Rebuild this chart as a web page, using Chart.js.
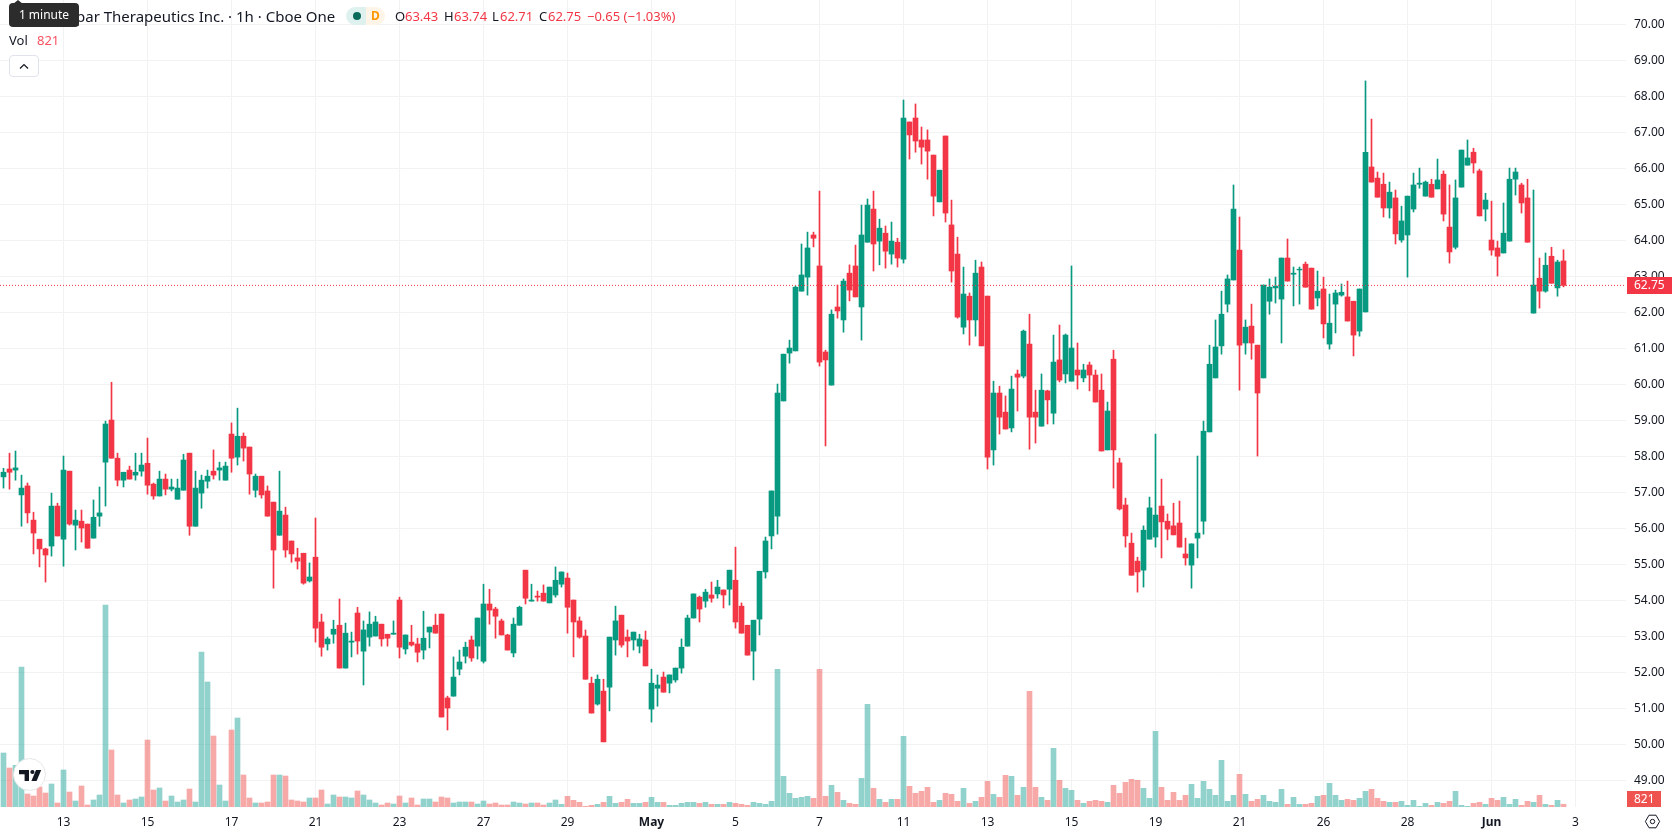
<!DOCTYPE html>
<html>
<head>
<meta charset="utf-8">
<title>1h candles</title>
<script src="https://cdn.jsdelivr.net/npm/chart.js@4"></script>
<style>
    body { margin: 0; background: #fff; font-family: "Noto Sans", sans-serif; color: #131722; overflow: hidden; }
    #wrap { position: relative; width: 1678px; height: 835px; }
    #chart { position: absolute; left: 0; top: 0; }
    .txt { position: absolute; white-space: nowrap; font-size: 13px; line-height: 18px; }
    .red { color: #f23645; }
    #title { left: 76px; top: 6px; font-size: 15px; line-height: 20px; }
    #hint { position: absolute; left: 9px; top: 3px; width: 70px; height: 24px; background: #2c2c2c; border-radius: 4px; color: #fff; font-size: 12px; line-height: 24px; text-align: center; }
    #hint-tip { position: absolute; left: 13px; top: 0; width: 0; height: 0; border-left: 5px solid transparent; border-right: 5px solid transparent; border-bottom: 4px solid #2c2c2c; }
    #pill-a { position: absolute; left: 346px; top: 7px; width: 20px; height: 18px; background: #dff1ee; border-radius: 9px 0 0 9px; }
    #pill-a i { position: absolute; left: 7px; top: 5px; width: 8px; height: 8px; border-radius: 50%; background: #0b6b5b; }
    #pill-b { position: absolute; left: 366px; top: 7px; width: 19px; height: 18px; background: #fff4e8; border-radius: 0 9px 9px 0; color: #ff9800; font-size: 12px; font-weight: 700; line-height: 18px; text-align: center; }
    #collapse { position: absolute; left: 9px; top: 55px; width: 28px; height: 20px; border: 1px solid #e0e3eb; border-radius: 4px; background: #fff; }
    #logo { position: absolute; left: 13px; top: 758px; width: 33px; height: 33px; box-sizing: border-box; border: 1px solid #e6e6e6; border-radius: 50%; background: #fff; }
    #gear { position: absolute; left: 1644px; top: 813px; }
</style>
</head>
<body>
<div id="wrap">
    <canvas id="chart" width="1678" height="835"></canvas>

    <div class="txt" id="title">par Therapeutics Inc. · 1h · Cboe One</div>
    <div id="hint-tip"></div>
    <div id="hint">1 minute</div>
    <div id="pill-a"><i></i></div>
    <div id="pill-b">D</div>

    <div class="txt" style="left:395px;top:7px">O</div><div class="txt red" style="left:405px;top:7px">63.43</div>
    <div class="txt" style="left:444px;top:7px">H</div><div class="txt red" style="left:454px;top:7px">63.74</div>
    <div class="txt" style="left:492px;top:7px">L</div><div class="txt red" style="left:500px;top:7px">62.71</div>
    <div class="txt" style="left:539px;top:7px">C</div><div class="txt red" style="left:548px;top:7px">62.75</div>
    <div class="txt red" style="left:587px;top:7px">−0.65 (−1.03%)</div>

    <div class="txt" style="left:9px;top:31px">Vol</div>
    <div class="txt" style="left:37px;top:31px;color:#f7525f">821</div>

    <div id="collapse">
        <svg width="28" height="20"><path d="M10 12.5l4-4 4 4" fill="none" stroke="#131722" stroke-width="1.2"/></svg>
    </div>

    <div id="logo">
        <svg width="31" height="31" viewBox="0 0 31 31">
            <path d="M5 11h10v11h-4.4v-6.8H5z" fill="#131722"/>
            <circle cx="18.4" cy="13" r="2.1" fill="#131722"/>
            <path d="M22 11h5.2l-4.6 11h-5.2z" fill="#131722"/>
        </svg>
    </div>

    <svg id="gear" width="17" height="17" viewBox="0 0 17 17">
        <path d="M5 2.2h7l3.6 6.3-3.6 6.3H5L1.4 8.5z" fill="none" stroke="#131722"/>
        <circle cx="8.5" cy="8.5" r="2.2" fill="none" stroke="#131722"/>
    </svg>
</div>

<script>
    // Hourly candles, oldest first
    const opens = [
        57.43,57.65,57.62,56.93,57.18,56.23,55.70,55.43,55.51,56.62,
        55.70,57.59,56.09,56.20,56.12,55.73,56.34,57.84,59.01,57.95,
        57.34,57.62,57.48,57.59,57.81,57.23,56.90,57.37,57.09,56.81,
        57.06,58.09,56.06,56.98,57.31,57.59,57.62,57.34,58.62,57.98,
        58.56,58.26,57.06,57.45,57.04,56.73,55.81,56.37,55.65,55.18,
        55.31,54.54,55.20,53.40,52.79,53.06,53.31,52.12,52.84,53.65,
        52.59,52.98,53.01,53.34,53.06,53.06,54.01,52.65,52.84,52.79,
        52.62,53.12,53.31,53.62,51.29,51.34,52.09,52.45,52.90,52.73,
        52.31,53.90,53.76,53.43,53.04,52.54,53.31,54.84,53.98,54.12,
        54.20,53.93,54.15,54.45,54.62,54.01,53.43,53.01,51.70,51.12,
        51.48,51.59,52.90,53.59,52.98,52.90,52.73,52.90,50.98,51.56,
        51.87,51.70,51.79,52.12,52.73,53.51,54.09,53.98,54.15,54.18,
        54.29,54.31,54.56,53.84,53.31,52.59,53.48,54.79,55.79,56.34,
        59.54,60.87,60.93,62.59,62.98,64.15,63.29,60.90,59.98,62.15,
        61.79,63.09,63.29,62.15,63.95,64.87,63.98,64.20,63.62,63.95,
        63.48,67.29,67.40,66.79,66.79,66.37,65.07,66.90,64.43,63.62,
        61.59,62.45,61.79,63.26,62.45,58.18,59.76,59.23,58.79,60.29,
        60.23,61.12,59.23,58.84,59.82,59.20,60.68,60.29,60.09,60.40,
        60.18,60.54,60.26,59.84,58.18,60.70,57.82,56.65,55.59,55.09,
        54.84,55.70,55.76,56.62,56.20,56.07,56.15,55.29,54.98,55.73,
        56.20,58.68,60.18,61.07,62.23,62.90,63.73,61.15,61.62,61.09,
        60.18,62.31,62.68,62.37,63.51,63.06,63.18,63.34,63.23,62.40,
        62.65,61.12,62.23,62.48,62.43,62.31,61.48,62.01,66.04,65.73,
        65.56,64.90,65.18,64.01,64.15,64.87,65.56,65.23,65.56,65.43,
        65.84,64.37,63.81,65.48,66.09,66.45,65.93,64.87,64.01,63.79,
        63.65,63.98,65.70,65.54,65.18,61.98,62.95,62.59,63.56,62.68,
        63.43
    ];
    const highs = [
        57.67,58.09,58.15,57.48,57.26,56.45,55.70,55.45,56.98,56.70,
        58.01,57.59,56.51,56.51,56.12,56.79,57.15,58.98,60.06,58.09,
        57.56,57.73,58.09,58.09,58.51,57.26,57.59,57.51,57.37,57.37,
        58.06,58.09,57.59,57.48,57.62,58.18,57.84,57.84,58.93,59.34,
        58.65,58.26,57.51,57.45,57.18,56.73,57.59,56.59,55.65,55.45,
        55.31,55.04,56.29,53.62,52.98,53.45,54.04,53.37,53.12,53.81,
        53.43,53.68,53.56,53.34,53.06,53.43,54.09,53.04,53.31,52.95,
        53.70,53.26,53.62,53.62,51.34,52.43,52.62,52.84,53.01,53.51,
        54.45,54.31,53.81,53.48,53.06,53.51,53.84,54.84,54.45,54.26,
        54.43,54.37,54.93,54.79,54.76,54.01,53.54,53.18,51.87,51.93,
        51.81,52.98,53.84,53.59,53.18,53.12,53.06,53.15,52.09,51.93,
        52.01,51.93,52.12,52.93,53.59,54.18,54.12,54.31,54.51,54.56,
        54.29,54.84,55.48,53.93,53.31,53.45,54.81,55.76,57.04,60.01,
        60.84,61.23,62.73,63.90,64.23,64.23,65.37,60.95,62.07,62.76,
        62.93,63.32,63.87,64.98,65.15,65.37,64.59,64.40,64.51,64.06,
        67.90,67.29,67.79,67.15,67.07,66.37,65.95,66.90,65.12,64.09,
        63.26,62.54,63.45,63.40,62.45,60.09,59.95,59.68,60.23,60.40,
        61.51,61.95,59.84,60.29,59.84,61.37,61.65,61.40,63.29,61.15,
        60.56,60.62,60.40,60.29,59.51,60.95,57.95,56.84,55.87,55.20,
        56.07,56.87,58.62,57.37,56.40,56.70,56.76,55.73,55.57,58.01,
        58.98,61.09,61.79,62.59,63.04,65.54,64.65,61.79,62.23,61.09,
        62.76,62.93,62.98,63.51,64.04,63.26,63.26,63.40,63.23,63.15,
        62.98,62.51,62.62,62.79,62.87,62.31,62.65,68.43,67.37,65.90,
        65.87,65.62,65.40,64.95,65.23,65.87,66.01,65.65,65.70,66.26,
        65.93,65.54,65.68,66.51,66.79,66.56,65.98,65.31,65.09,63.98,
        65.04,66.01,66.01,65.59,65.70,65.40,63.51,63.65,63.81,63.45,
        63.74
    ];
    const lows = [
        57.12,57.09,57.34,56.06,56.15,55.29,54.93,54.51,55.23,55.79,
        54.95,56.09,55.40,55.62,55.45,55.73,56.06,56.62,57.95,57.18,
        57.15,57.37,57.34,57.45,56.95,56.81,56.90,56.93,57.04,56.81,
        57.06,55.81,56.06,56.56,57.12,57.37,57.34,57.34,57.56,57.76,
        57.87,56.95,56.87,56.84,56.34,54.34,55.81,55.20,55.06,54.87,
        54.45,54.51,52.84,52.45,52.62,52.81,52.12,52.12,52.43,52.51,
        51.65,52.73,53.01,52.73,52.73,53.06,52.40,52.51,52.73,52.29,
        52.37,52.68,53.09,50.76,50.40,51.34,51.93,52.26,52.31,52.37,
        52.26,53.34,52.95,53.04,52.62,52.43,53.31,53.90,53.98,53.98,
        53.98,53.93,54.09,54.37,53.09,52.43,52.95,51.81,50.87,51.09,
        50.07,50.93,52.48,52.70,52.43,52.62,52.54,52.18,50.62,51.06,
        51.45,51.43,51.73,51.98,52.73,53.51,53.40,53.81,53.95,54.06,
        53.79,53.87,53.23,53.09,52.48,51.79,53.04,54.62,55.43,55.84,
        59.54,60.59,60.93,62.59,62.48,63.82,60.51,58.29,59.98,61.84,
        61.45,62.32,62.43,61.23,63.95,63.15,63.32,63.23,63.34,63.26,
        63.37,66.26,66.45,66.12,65.70,64.68,65.07,64.51,62.84,61.84,
        61.40,61.09,61.34,61.07,57.65,57.76,58.62,58.76,58.68,59.26,
        60.18,58.20,58.37,58.84,58.90,58.90,60.07,60.04,60.09,59.87,
        60.07,59.82,59.51,58.15,58.18,57.12,56.51,55.48,54.70,54.23,
        54.37,55.70,55.48,55.18,55.68,55.82,55.48,54.98,54.34,55.18,
        55.84,58.68,60.18,60.84,62.01,62.90,59.84,60.84,60.70,58.01,
        60.18,61.95,62.26,61.15,62.87,62.18,62.23,62.70,62.09,62.18,
        61.29,60.98,61.43,62.45,61.76,60.79,61.34,62.01,65.62,65.20,
        64.65,64.62,63.90,63.95,62.98,64.79,65.45,65.23,65.20,65.43,
        64.54,63.37,63.76,65.48,66.09,65.87,64.68,64.54,63.59,63.01,
        63.65,63.98,65.26,64.76,63.95,61.98,62.12,62.56,62.81,62.45,
        62.71
    ];
    const closes = [
        57.56,57.56,57.68,57.12,56.43,55.87,55.43,55.26,56.62,55.79,
        57.62,56.12,56.23,56.01,55.45,56.31,56.43,58.90,57.95,57.34,
        57.56,57.37,57.56,57.76,57.20,56.90,57.37,57.09,57.15,57.12,
        57.90,56.06,57.12,57.34,57.45,57.48,57.68,57.73,57.95,58.56,
        58.23,57.51,57.45,56.93,56.34,55.40,56.48,55.40,55.29,55.09,
        54.48,54.65,53.23,52.70,52.93,53.20,52.12,53.09,52.87,52.87,
        53.18,53.34,53.40,52.93,52.95,53.09,52.70,53.04,52.76,52.56,
        52.95,53.26,53.09,50.76,51.01,51.87,52.29,52.70,52.40,53.51,
        53.90,53.73,53.56,53.04,52.62,53.34,53.81,54.06,54.01,54.09,
        53.98,54.37,54.56,54.79,53.81,53.40,52.98,51.81,50.87,51.81,
        50.07,52.98,53.43,52.76,52.87,53.12,52.93,52.18,51.70,51.65,
        51.45,51.93,52.12,52.70,53.51,54.18,53.76,54.23,54.06,54.37,
        54.15,54.84,53.40,53.09,52.48,53.45,54.81,55.65,57.04,59.76,
        60.84,61.01,62.70,63.04,63.79,64.06,60.62,60.68,61.95,62.04,
        62.87,62.62,62.43,64.15,64.98,63.90,64.34,63.70,63.98,63.51,
        67.40,66.93,66.76,66.59,66.48,65.23,65.95,64.76,63.15,61.87,
        62.51,61.79,63.09,61.07,57.98,59.76,59.09,58.76,59.87,60.20,
        61.48,59.09,59.09,59.84,59.57,60.62,60.12,61.37,61.01,60.26,
        60.40,60.26,59.51,58.15,59.26,58.18,56.54,55.79,54.70,54.79,
        55.95,56.57,56.37,56.18,55.98,55.82,55.48,55.18,55.57,55.87,
        58.70,60.56,61.04,61.95,62.93,64.87,61.09,61.59,61.15,59.76,
        62.76,62.70,62.73,63.51,62.87,63.09,63.20,62.70,62.09,62.59,
        61.68,61.70,62.54,62.56,61.76,61.37,62.65,66.45,65.62,65.20,
        64.90,65.34,64.18,64.54,65.23,65.54,65.59,65.62,65.20,65.68,
        64.73,63.68,65.18,66.51,66.29,66.15,64.68,65.12,63.73,63.56,
        64.20,65.70,65.90,65.04,63.95,62.76,62.59,63.31,62.81,63.40,
        62.75
    ];
    const volumes = [
        16200,11700,12500,42000,3900,3300,6000,4200,6900,1200,
        11100,4500,1800,6300,600,2100,3600,60600,17100,3600,
        1200,2100,2400,3000,20100,5100,5700,1800,3300,1500,
        2100,5400,1500,46500,37500,21300,6600,1800,23100,26700,
        9600,2700,1200,1200,1500,9600,9600,9300,2100,1800,
        1500,2700,2700,5100,900,3600,3000,3000,2700,4800,
        3600,2100,1200,600,1200,900,3300,1200,2700,600,
        2400,2400,1500,3000,2700,1200,1500,1500,1500,900,
        1800,900,1200,600,600,1500,1200,900,1200,1200,
        600,1200,2100,800,3200,2000,1400,200,500,800,
        1400,3200,1100,1400,2300,1100,1100,1400,2900,1400,
        1400,500,500,1100,1400,1400,1100,1400,800,800,
        800,1400,1100,800,500,1400,1100,800,1700,41300,
        9200,4100,2600,2900,3200,2600,41300,3200,6500,4400,
        2000,1100,800,8600,30800,5600,2300,1400,2300,2300,
        21200,6200,4100,4700,5900,1400,2000,4100,3800,1700,
        5600,1100,1700,2900,7700,3800,2900,9500,9200,3500,
        5900,34700,5900,2900,2000,17600,8000,5600,5000,2000,
        1100,1700,2000,1700,1400,6500,4100,7400,8300,8000,
        5600,2600,22700,5900,2000,4400,2000,3500,6800,2600,
        7700,5300,3500,14000,1700,3500,9800,3800,1700,2300,
        3500,1700,1400,5300,800,2900,800,800,1100,3200,
        3500,7100,3500,2000,2300,2000,2600,4700,5300,2600,
        1700,1400,1400,1700,500,2000,200,1100,500,1400,
        1100,1700,4700,500,200,1100,1400,800,2600,2000,
        2900,800,2300,500,1700,1400,3500,800,500,2000,
        821
    ];

    // Time axis: bar index of each label
    const tickBars = [10, 24, 38, 52, 66, 80, 94, 108, 122, 136, 150, 164, 178, 192, 206, 220, 234, 248, 262];
    const tickLabels = ['13', '15', '17', '21', '23', '27', '29', 'May', '5', '7', '11', '13', '15', '19', '21', '26', '28', 'Jun', '3'];
    const boldLabels = ['May', 'Jun'];

    const lastClose = 62.75;
    const lastVolume = 821;

    const UP = '#089981';
    const DOWN = '#f23645';
    const isUp = closes.map((c, i) => c >= opens[i]);
    const candleColors = isUp.map(u => u ? UP : DOWN);
    const volumeColors = isUp.map(u => u ? 'rgba(38,166,154,0.5)' : 'rgba(239,83,80,0.5)');

    // Pane bounds of the price, volume and bar-index axes
    const PRICE_MIN = 48.261, PRICE_MAX = 70.678;
    const VOLUME_MAX = 242100;
    const BAR_MIN = -0.5833, BAR_MAX = 270.4167;

    // Value tags sitting on the price scale
    const tagsPlugin = {
        id: 'valueTags',
        afterDraw(chart) {
            const { ctx, chartArea, scales } = chart;
            const y = scales.y.getPixelForValue(lastClose);
            ctx.save();
            ctx.font = '12px "Noto Sans"';
            ctx.textBaseline = 'middle';
            ctx.textAlign = 'left';

            ctx.fillStyle = DOWN;
            ctx.fillRect(chartArea.right + 1, Math.round(y) - 8, 45, 17);
            ctx.fillStyle = '#fff';
            ctx.fillText(lastClose.toFixed(2), chartArea.right + 8, Math.round(y) + 1);

            ctx.fillStyle = '#ef5350';
            ctx.fillRect(chartArea.right + 1, chartArea.bottom - 16, 34, 16);
            ctx.fillStyle = '#fff';
            ctx.fillText(String(lastVolume), chartArea.right + 8, chartArea.bottom - 7);
            ctx.restore();
        }
    };

    new Chart(document.getElementById('chart'), {
        type: 'bar',
        plugins: [tagsPlugin],
        data: {
            datasets: [
                {
                    // last price marker
                    type: 'line',
                    data: [{ x: BAR_MIN, y: lastClose }, { x: BAR_MAX, y: lastClose }],
                    borderColor: DOWN,
                    borderWidth: 1,
                    borderDash: [1, 2],
                    pointRadius: 0,
                    order: 0
                },
                {
                    // candle bodies
                    data: opens.map((o, i) => ({ x: i, y: [o, closes[i]] })),
                    backgroundColor: candleColors,
                    barThickness: 5,
                    grouped: false,
                    order: 1
                },
                {
                    // wicks
                    data: highs.map((h, i) => ({ x: i, y: [lows[i], h] })),
                    backgroundColor: candleColors,
                    barThickness: 1,
                    grouped: false,
                    order: 2
                },
                {
                    data: volumes.map((v, i) => ({ x: i, y: v })),
                    backgroundColor: volumeColors,
                    barThickness: 5,
                    grouped: false,
                    yAxisID: 'vol',
                    order: 3
                }
            ]
        },
        options: {
            responsive: false,
            animation: false,
            devicePixelRatio: 1,
            events: [],
            layout: { padding: 0, autoPadding: false },
            plugins: { legend: { display: false }, tooltip: { enabled: false } },
            scales: {
                x: {
                    type: 'linear',
                    offset: false,
                    min: BAR_MIN,
                    max: BAR_MAX,
                    afterBuildTicks(scale) {
                        scale.ticks = tickBars.map(v => ({ value: v }));
                    },
                    afterFit(scale) {
                        scale.height = 28;
                        scale.paddingLeft = scale.paddingRight = 0;
                    },
                    border: { display: false },
                    grid: { color: '#f2f2f2', drawTicks: false, offset: false },
                    ticks: {
                        autoSkip: false,
                        maxRotation: 0,
                        padding: 8,
                        color: '#131722',
                        callback: v => tickLabels[tickBars.indexOf(v)],
                        font: ctx => {
                            const label = ctx.tick ? tickLabels[tickBars.indexOf(ctx.tick.value)] : '';
                            return { family: '"Noto Sans"', size: 12, weight: boldLabels.includes(label) ? 'bold' : 'normal' };
                        }
                    }
                },
                y: {
                    position: 'right',
                    min: PRICE_MIN,
                    max: PRICE_MAX,
                    afterFit(scale) {
                        scale.width = 52;
                        // the pane runs right up to the canvas top
                        scale.paddingTop = scale.paddingBottom = 0;
                    },
                    border: { display: false },
                    grid: { color: '#f2f2f2', drawTicks: false },
                    ticks: {
                        stepSize: 1,
                        includeBounds: false,
                        crossAlign: 'near',
                        padding: 8,
                        color: '#131722',
                        font: { family: '"Noto Sans"', size: 12 },
                        callback: v => v.toFixed(2)
                    }
                },
                vol: {
                    display: false,
                    min: 0,
                    max: VOLUME_MAX
                }
            }
        }
    });
</script>
</body>
</html>
